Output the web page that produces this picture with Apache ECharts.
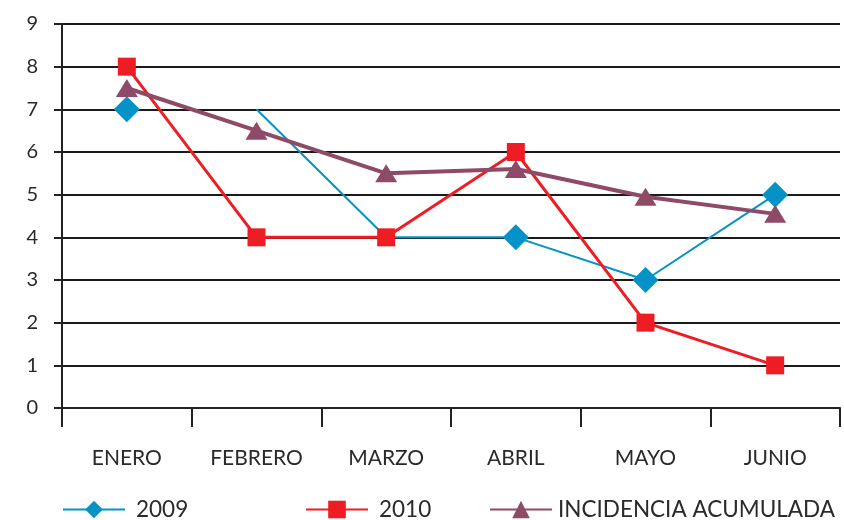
<!DOCTYPE html>
<html>
<head>
<meta charset="utf-8">
<script src="https://cdn.jsdelivr.net/npm/echarts@6/dist/echarts.min.js"></script>
<style>
  html, body { margin: 0; padding: 0; background: #fff; }
  #chart { width: 844px; height: 520px; }
</style>
</head>
<body>
<div id="chart"></div>
<script>
// Monthly values, January to June
const months = ['ENERO', 'FEBRERO', 'MARZO', 'ABRIL', 'MAYO', 'JUNIO'];
const values2009 = [7, 7, 4, 4, 3, 5];
const values2010 = [8, 4, 4, 6, 2, 1];
const incidencia = [7.5, 6.5, 5.5, 5.6, 4.95, 4.55];

const FONT = 'Lato';
const BLUE = '#0592c6';
const RED = '#ee1d24';
const MAUVE = '#8e4a67';

// 2009: January is shown as a lone marker, the line runs from February on
const first2009 = values2009.map((v, i) => (i === 0 ? v : '-'));
const rest2009 = values2009.map((v, i) => {
  if (i === 0) return '-';
  if (i === 1 || i === 2) return { value: v, symbol: 'none' };
  return v;
});

const chart = echarts.init(document.getElementById('chart'), null, { renderer: 'canvas' });

function legendAt(name, left, gap) {
  return {
    data: [name],
    left: left,
    top: 498,
    itemWidth: 62,
    itemHeight: 22,
    padding: 0,
    textStyle: { fontFamily: FONT, fontSize: 22.5, color: '#2a2a2a', padding: [0, 0, 0, gap] }
  };
}

chart.setOption({
  animation: false,
  backgroundColor: '#fff',
  grid: { left: 62, right: 4, top: 24, bottom: 112 },
  legend: [
    legendAt('2009', 62, 6),
    legendAt('2010', 305, 6),
    legendAt('INCIDENCIA ACUMULADA', 489, 1)
  ],
  xAxis: {
    type: 'category',
    data: months,
    boundaryGap: true,
    axisLine: { lineStyle: { color: '#222', width: 2 } },
    axisTick: { show: true, length: 19, lineStyle: { color: '#222', width: 2 } },
    axisLabel: { margin: 40, fontFamily: FONT, fontSize: 21, color: '#2a2a2a' },
    splitLine: { show: false }
  },
  yAxis: {
    type: 'value',
    min: 0,
    max: 9,
    interval: 1,
    axisLine: { show: true, lineStyle: { color: '#222', width: 2 } },
    axisTick: { show: true, length: 8, lineStyle: { color: '#222', width: 2 } },
    axisLabel: { margin: 24, fontFamily: FONT, fontSize: 20, color: '#2a2a2a' },
    splitLine: { show: true, lineStyle: { color: '#1a1a1a', width: 2 } }
  },
  series: [
    {
      name: '2009',
      type: 'line',
      data: first2009,
      symbol: 'diamond',
      symbolSize: 26,
      showAllSymbol: true,
      lineStyle: { color: BLUE, width: 2 },
      itemStyle: { color: BLUE },
      z: 2
    },
    {
      name: '2009',
      type: 'line',
      data: rest2009,
      symbol: 'diamond',
      symbolSize: 26,
      showAllSymbol: true,
      lineStyle: { color: BLUE, width: 2 },
      itemStyle: { color: BLUE },
      z: 2
    },
    {
      name: '2010',
      type: 'line',
      data: values2010,
      symbol: 'rect',
      symbolSize: 18,
      showAllSymbol: true,
      lineStyle: { color: RED, width: 3 },
      itemStyle: { color: RED },
      z: 3
    },
    {
      name: 'INCIDENCIA ACUMULADA',
      type: 'line',
      data: incidencia,
      symbol: 'triangle',
      symbolSize: [22, 18],
      showAllSymbol: true,
      lineStyle: { color: MAUVE, width: 4 },
      itemStyle: { color: MAUVE },
      z: 4
    }
  ]
});
</script>
</body>
</html>
